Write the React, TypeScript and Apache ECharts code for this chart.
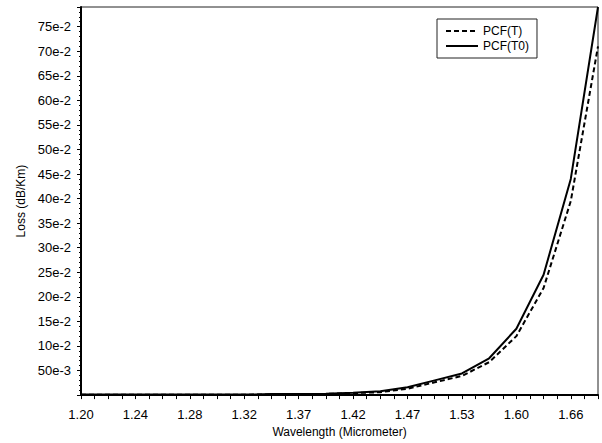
import React, { useEffect, useRef } from 'react';
import * as echarts from 'echarts';

// Category positions along the wavelength axis (evenly spaced ticks)
const wavelengths = [
  '1.20', '1.21', '1.22', '1.23', '1.24', '1.25', '1.26', '1.27', '1.28', '1.29',
  '1.30', '1.31', '1.32', '1.3325', '1.345', '1.3575', '1.37', '1.3825', '1.395', '1.4075',
  '1.42', '1.4325', '1.445', '1.4575', '1.47', '1.485', '1.50', '1.515', '1.53', '1.5475',
  '1.565', '1.5825', '1.60', '1.615', '1.63', '1.645', '1.66', '1.675', '1.69',
];

// Measured points: one at every other category (indices 0, 2, 4, ..., 38)
const lossT = [
  0.0008, 0.0008, 0.0008, 0.0008, 0.0008, 0.0008, 0.0008, 0.0015, 0.0018, 0.0025,
  0.004, 0.006, 0.013, 0.026, 0.039, 0.067, 0.12, 0.218, 0.395, 0.71,
];
const lossT0 = [
  0.001, 0.001, 0.001, 0.001, 0.001, 0.001, 0.001, 0.002, 0.002, 0.003,
  0.005, 0.008, 0.016, 0.030, 0.044, 0.075, 0.135, 0.245, 0.44, 0.79,
];

const seriesNames = ['PCF(T)', 'PCF(T0)'];

const toCategoryData = (vals: number[]) => {
  const out: (number | null)[] = [];
  vals.forEach((v, i) => {
    out.push(v);
    if (i < vals.length - 1) out.push(null);
  });
  return out;
};

const FONT = 'Liberation Sans, Arial, sans-serif';

export default function App() {
  const ref = useRef<HTMLDivElement>(null);
  useEffect(() => {
    if (!ref.current) return;
    const chart = echarts.init(ref.current, undefined, { renderer: 'svg' });
    chart.setOption({
      animation: false,
      backgroundColor: '#fff',
      textStyle: { fontFamily: FONT, color: '#000' },
      grid: {
        left: 81, right: 4, top: 7, bottom: 47,
        show: true, borderColor: '#222', borderWidth: 1, backgroundColor: 'transparent',
      },
      legend: {
        orient: 'vertical',
        left: 437, top: 19,
        padding: [6, 8, 6, 8],
        itemWidth: 32, itemHeight: 14, itemGap: 3,
        borderColor: '#222', borderWidth: 1, backgroundColor: '#fff',
        itemStyle: { opacity: 0 },
        textStyle: { fontFamily: FONT, fontSize: 12, color: '#000', width: 84 },
        data: seriesNames,
      },
      xAxis: {
        type: 'category',
        data: wavelengths,
        boundaryGap: false,
        name: 'Wavelength (Micrometer)',
        nameLocation: 'middle',
        nameGap: 30,
        nameTextStyle: { fontFamily: FONT, fontSize: 12, color: '#000' },
        axisLine: { lineStyle: { color: '#000', width: 2 } },
        axisTick: { show: true, interval: 0, length: 4, lineStyle: { color: '#000' } },
        axisLabel: {
          interval: 3, margin: 13, fontFamily: FONT, fontSize: 13, color: '#000',
          formatter: (v: string) => Number(v).toFixed(2),
        },
        splitLine: { show: false },
      },
      yAxis: {
        type: 'value',
        min: 0, max: 0.79, interval: 0.05,
        name: 'Loss (dB/Km)',
        nameLocation: 'middle',
        nameGap: 54,
        nameTextStyle: { fontFamily: FONT, fontSize: 12, color: '#000' },
        axisLine: { show: true, lineStyle: { color: '#000', width: 2 } },
        axisTick: { show: true, length: 4, lineStyle: { color: '#000' } },
        minorTick: { show: true, splitNumber: 5, length: 2, lineStyle: { color: '#000' } },
        axisLabel: {
          margin: 10, fontFamily: FONT, fontSize: 13, color: '#000',
          formatter: (v: number) => {
            const k = Math.round(v / 0.05);
            if (k === 0 || Math.abs(v - k * 0.05) > 1e-6) return '';
            if (k === 1) return '50e-3';
            return `${k * 5}e-2`;
          },
        },
        splitLine: { show: false },
      },
      series: [
        {
          name: seriesNames[0],
          type: 'line',
          data: toCategoryData(lossT),
          connectNulls: true,
          symbol: 'none',
          lineStyle: { color: '#000', width: 2, type: [5, 3] },
          itemStyle: { color: '#000' },
        },
        {
          name: seriesNames[1],
          type: 'line',
          data: toCategoryData(lossT0),
          connectNulls: true,
          symbol: 'none',
          lineStyle: { color: '#000', width: 2, type: 'solid' },
          itemStyle: { color: '#000' },
        },
      ],
    });
    return () => chart.dispose();
  }, []);
  return (
    <div
      ref={ref}
      style={{ position: 'fixed', left: 0, top: 0, width: 602, height: 443, background: '#fff' }}
    />
  );
}
